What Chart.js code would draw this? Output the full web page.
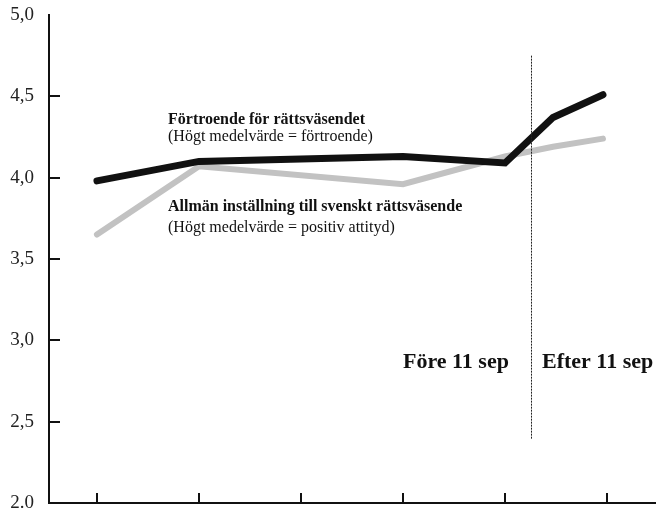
<!DOCTYPE html>
<html>
<head>
<meta charset="utf-8">
<script src="https://cdn.jsdelivr.net/npm/chart.js@4/dist/chart.umd.min.js"></script>
<style>
  html, body { margin: 0; padding: 0; background: #fff; }
  canvas { display: block; }
</style>
</head>
<body>
<canvas id="c" width="656" height="514"></canvas>
<script>
// ---- data ----
const xPositions   = [0, 1, 3, 4, 4.47, 4.96];
const trustValues  = [3.98, 4.10, 4.13, 4.09, 4.37, 4.51];   // Förtroende för rättsväsendet
const attitudeValues = [3.65, 4.07, 3.96, 4.13, 4.19, 4.24]; // Allmän inställning
const yTickValues  = [2, 2.5, 3, 3.5, 4, 4.5, 5];
const yTickLabels  = ['2.0', '2,5', '3,0', '3,5', '4,0', '4,5', '5,0'];
const xTickValues  = [0, 1, 2, 3, 4, 5];
const dividerX     = 4.25;
const dividerRange = [2.39, 4.75];

const serif = "'Liberation Serif', 'Times New Roman', serif";

const decor = {
  id: 'decor',
  afterDatasetsDraw(chart) {
    const ctx = chart.ctx;
    const xs = chart.scales.x, ys = chart.scales.y;
    const left = chart.chartArea.left, bottom = chart.chartArea.bottom;
    ctx.save();
    ctx.strokeStyle = '#111';
    ctx.lineWidth = 2;
    yTickValues.forEach(v => {
      if (v === 2 || v === 5) return;
      const y = Math.round(ys.getPixelForValue(v));
      ctx.beginPath(); ctx.moveTo(left, y); ctx.lineTo(left + 11, y); ctx.stroke();
    });
    xTickValues.forEach(v => {
      const x = Math.round(xs.getPixelForValue(v));
      ctx.beginPath(); ctx.moveTo(x, bottom); ctx.lineTo(x, bottom - 10); ctx.stroke();
    });
    ctx.lineWidth = 1;
    ctx.strokeStyle = '#222';
    ctx.setLineDash([2, 1]);
    const dx = Math.round(xs.getPixelForValue(dividerX)) + 0.5;
    ctx.beginPath();
    ctx.moveTo(dx, ys.getPixelForValue(dividerRange[1]));
    ctx.lineTo(dx, ys.getPixelForValue(dividerRange[0]));
    ctx.stroke();
    ctx.setLineDash([]);
    ctx.fillStyle = '#111';
    ctx.textAlign = 'left';
    ctx.textBaseline = 'alphabetic';
    ctx.font = 'bold 16px ' + serif;
    ctx.fillText('Förtroende för rättsväsendet', 168, 124);
    ctx.fillText('Allmän inställning till svenskt rättsväsende', 168, 211);
    ctx.font = '16px ' + serif;
    ctx.fillText('(Högt medelvärde = förtroende)', 168, 141);
    ctx.fillText('(Högt medelvärde = positiv attityd)', 168, 232);
    ctx.font = 'bold 22px ' + serif;
    ctx.fillText('Före 11 sep', 403, 368);
    ctx.fillText('Efter 11 sep', 542, 368);
    ctx.restore();
  }
};

new Chart(document.getElementById('c'), {
  type: 'line',
  data: {
    datasets: [
      {
        label: 'Förtroende för rättsväsendet',
        data: xPositions.map((x, i) => ({ x, y: trustValues[i] })),
        borderColor: '#111111',
        borderWidth: 7,
        borderCapStyle: 'round',
        borderJoinStyle: 'miter',
        pointRadius: 0,
        tension: 0,
        order: 1
      },
      {
        label: 'Allmän inställning till svenskt rättsväsende',
        data: xPositions.map((x, i) => ({ x, y: attitudeValues[i] })),
        borderColor: '#c2c2c2',
        borderWidth: 6,
        borderCapStyle: 'round',
        borderJoinStyle: 'miter',
        pointRadius: 0,
        tension: 0,
        order: 2
      }
    ]
  },
  options: {
    responsive: false,
    animation: false,
    events: [],
    layout: { padding: { top: 15, right: 1, bottom: 11, left: 0 } },
    plugins: { legend: { display: false }, tooltip: { enabled: false } },
    scales: {
      x: {
        type: 'linear',
        min: -0.47,
        max: 5.47,
        ticks: { display: false },
        grid: { display: false, drawTicks: false },
        border: { display: true, color: '#111', width: 2 },
        afterFit: s => { s.height = 0; s.paddingLeft = 0; s.paddingRight = 0; }
      },
      y: {
        type: 'linear',
        min: 2,
        max: 5,
        afterBuildTicks: s => { s.ticks = yTickValues.map(v => ({ value: v })); },
        ticks: {
          callback: (v) => yTickLabels[yTickValues.indexOf(v)],
          font: { family: serif, size: 19 },
          color: '#222',
          padding: 15
        },
        grid: { display: false, drawTicks: false },
        border: { display: true, color: '#111', width: 2 },
        afterFit: s => { s.width = 49; s.paddingTop = 0; s.paddingBottom = 0; }
      }
    }
  },
  plugins: [decor]
});
</script>
</body>
</html>
